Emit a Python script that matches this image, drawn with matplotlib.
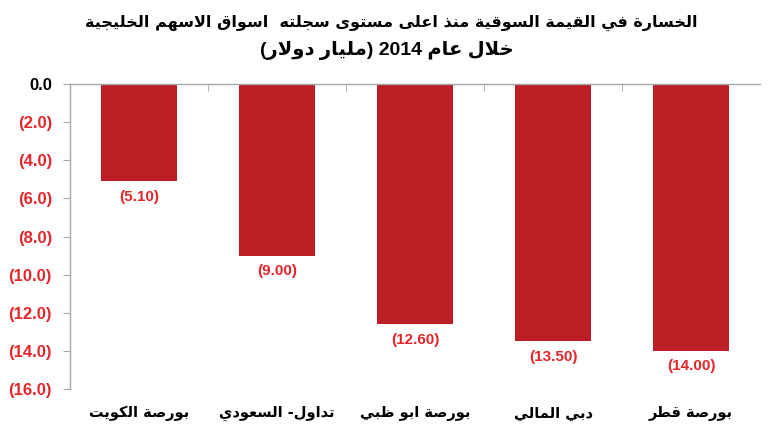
import re
import matplotlib
matplotlib.use("Agg")
import matplotlib.pyplot as plt
from matplotlib.ticker import FixedLocator

# ---------------- data ----------------
categories = ["بورصة الكويت", "تداول- السعودي", "بورصة ابو ظبي", "دبي المالي", "بورصة قطر"]
losses = [5.10, 9.00, 12.60, 13.50, 14.00]
title_line1 = "الخسارة في القيمة السوقية منذ اعلى مستوى سجلته  اسواق الاسهم الخليجية"
title_line2 = "خلال عام 2014 (مليار دولار)"
y_ticks = [0, -2, -4, -6, -8, -10, -12, -14, -16]

# ---------------- minimal Arabic shaping + RTL ordering ----------------
TABLE = {}
for ch, b in zip("ئبتثجحخسشصضطظعغفقكلمنهي",
                 [0xFE89, 0xFE8F, 0xFE95, 0xFE99, 0xFE9D, 0xFEA1, 0xFEA5, 0xFEB1, 0xFEB5,
                  0xFEB9, 0xFEBD, 0xFEC1, 0xFEC5, 0xFEC9, 0xFECD, 0xFED1, 0xFED5, 0xFED9,
                  0xFEDD, 0xFEE1, 0xFEE5, 0xFEE9, 0xFEF1]):
    TABLE[ch] = (b, "D")
for ch, b in zip("آأؤإاةدذرزوى",
                 [0xFE81, 0xFE83, 0xFE85, 0xFE87, 0xFE8D, 0xFE93, 0xFEA9, 0xFEAB, 0xFEAD,
                  0xFEAF, 0xFEED, 0xFEEF]):
    TABLE[ch] = (b, "R")
TABLE["ء"] = (0xFE80, "U")
LAMALEF = {"آ": 0xFEF5, "أ": 0xFEF7, "إ": 0xFEF9, "ا": 0xFEFB}


def shape(s):
    out = []
    n = len(s)
    i = 0

    def joins_prev(k):
        return k - 1 >= 0 and s[k - 1] in TABLE and TABLE[s[k - 1]][1] == "D"

    while i < n:
        c = s[i]
        if c == "ل" and i + 1 < n and s[i + 1] in LAMALEF:
            base = LAMALEF[s[i + 1]]
            out.append(chr(base + 1 if joins_prev(i) else base))
            i += 2
            continue
        if c in TABLE:
            base, t = TABLE[c]
            p = joins_prev(i)
            nx = i + 1 < n and s[i + 1] in TABLE and TABLE[s[i + 1]][1] in "DR"
            if t == "D":
                form = 3 if (p and nx) else 1 if p else 2 if nx else 0
            elif t == "R":
                form = 1 if p else 0
            else:
                form = 0
            out.append(chr(base + form))
        else:
            out.append(c)
        i += 1
    return "".join(out)


def rtl(s):
    v = shape(s)[::-1]
    v = re.sub(r"[0-9][0-9.,]*", lambda m: m.group(0)[::-1], v)
    return v.translate(str.maketrans("()", ")("))


# ---------------- style ----------------
BAR = "#BC1E25"
RED = "#E3262B"
GREY = "#A6A6A6"
NUM_FONT = ["Liberation Sans", "DejaVu Sans"]
AR_FONT = ["DejaVu Sans"]

fig = plt.figure(figsize=(7.7, 4.29), dpi=100)
ax = fig.add_axes([70 / 770, 1 - 389 / 429, 690 / 770, 305 / 429])

x = list(range(len(categories)))
vals = [-v for v in losses]
ax.bar(x, vals, width=0.55, color=BAR, zorder=2)

for xi, v in zip(x, losses):
    ax.annotate(f"({v:.2f})", xy=(xi, -v), xytext=(0, -6), textcoords="offset points",
                ha="center", va="top", color=RED, fontsize=11, fontweight="bold",
                family=NUM_FONT)

ax.set_xlim(-0.5, len(categories) - 0.5)
ax.set_ylim(-16, 0)

# y axis
ax.set_yticks(y_ticks)
ylabels = ["0.0" if t == 0 else f"({abs(t):.1f})" for t in y_ticks]
ax.set_yticklabels(ylabels)
for lab, t in zip(ax.get_yticklabels(), y_ticks):
    lab.set_color("black" if t == 0 else RED)
    lab.set_fontweight("bold")
    lab.set_fontsize(12)
    lab.set_family(NUM_FONT)
ax.tick_params(axis="y", direction="out", length=5, color=GREY, pad=8)

# x axis: labels at bottom, boundary ticks on the zero line (top spine)
ax.set_xticks(x)
ax.set_xticklabels([rtl(c) for c in categories], fontsize=10.5, fontweight="bold",
                   family=AR_FONT)
ax.tick_params(axis="x", which="major", length=0, pad=12)
ax.xaxis.set_minor_locator(FixedLocator([i + 0.5 for i in x[:-1]]))
ax.tick_params(axis="x", which="minor", top=True, bottom=False, direction="in",
               length=5, color=GREY)

for side in ("right", "bottom"):
    ax.spines[side].set_visible(False)
for side in ("top", "left"):
    ax.spines[side].set_color(GREY)
    ax.spines[side].set_linewidth(1.0)

fig.text(0.508, 1 - 23 / 429, rtl(title_line1), ha="center", va="center",
         fontsize=11.5, fontweight="bold", family=AR_FONT)
fig.text(0.502, 1 - 51 / 429, rtl(title_line2), ha="center", va="center",
         fontsize=14, fontweight="bold", family=NUM_FONT)

fig.savefig("out.png", dpi=100)
